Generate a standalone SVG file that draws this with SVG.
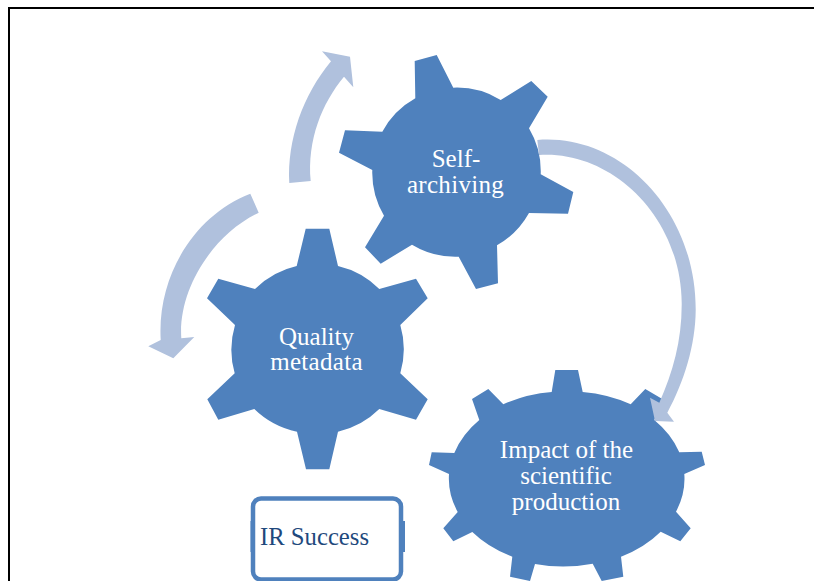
<svg xmlns="http://www.w3.org/2000/svg" width="814" height="581" viewBox="0 0 814 581">
<style>
.gear{fill:#4f81bd}
.arrow{fill:#b0c1dd}
.lbl{font-family:"Liberation Serif","Times New Roman",serif;font-size:25px;fill:#fff;text-anchor:middle}
</style>
<rect width="814" height="581" fill="#fff"/>
<path d="M9,581V8H814" fill="none" stroke="#000" stroke-width="2"/>
<g id="node-self-archiving">
<path class="gear" d="M414.7,61L436.7,55L453.3,87.7A84,84 0 0 1 500.7,100L531.3,81L547.7,96.7L529,128.3A84,84 0 0 1 540.7,174.3L573.3,192L568,213.7L529,213A84,84 0 0 1 497,245.3L498,283.3L476,289L458.7,256.7A84,84 0 0 1 412,244.7L380.7,263.7L365,247.3L384,215.7A84,84 0 0 1 372.3,170L339,152.7L345,130.3L382.3,131.7A84,84 0 0 1 415.3,98.3Z"/>
<text class="lbl" x="456" y="167">Self-</text>
<text class="lbl" x="455.500" y="193" letter-spacing="0.3">archiving</text>
</g>
<g id="node-quality-metadata">
<path class="gear" d="M305.7,228.7H329.3L338,266A86,86 0 0 1 379.3,289L416,278.7L427.7,298.3L400.3,325A86,86 0 0 1 400.3,373.3L427.7,399.3L416,419.7L379.3,409A86,86 0 0 1 338,431.7L329.3,469.3H306L297,431.7A86,86 0 0 1 254.3,409L218.3,419.7L207.3,399.3L234.7,373.3A86,86 0 0 1 235,325L207,298.3L218.3,278.7L255,289A86,86 0 0 1 296.7,266Z"/>
<text class="lbl" x="316.500" y="345">Quality</text>
<text class="lbl" x="316.500" y="370" letter-spacing="0.3">metadata</text>
</g>
<g id="node-impact">
<path class="gear" d="M555.300,370H578L582.700,392A118,88 0 0 1 630.700,404.300L645.300,389L662.300,399L654.300,420A118,88 0 0 1 679.300,452.300L701.700,451.700L705,465L684.300,474A118,88 0 0 1 676,511.700L690.700,528.300L680.300,541.300L660.700,531.700A118,88 0 0 1 621,556.700L623.300,576.700L601.700,581L592.700,563.700A118,88 0 0 1 535,564L530,581L510,576.700L512.300,556.700A118,88 0 0 1 472.300,532L453.300,541.300L443.300,528.300L457.700,512A118,88 0 0 1 449,474L429,465L431.700,452.300L454.300,453A118,88 0 0 1 479.300,420L472,399L488.300,389L503.300,404.300A118,88 0 0 1 551.700,392Z"/>
<text class="lbl" x="566.500" y="458">Impact of the</text>
<text class="lbl" x="566" y="484">scientific</text>
<text class="lbl" x="566" y="510">production</text>
</g>
<g id="node-ir-success">
<rect x="253" y="498.500" width="148" height="81" rx="8" fill="#fff" stroke="#4f81bd" stroke-width="4.500"/>
<rect x="399.500" y="521" width="5.500" height="31" fill="#4f81bd"/>
<rect x="250.500" y="521" width="3" height="31" fill="#4f81bd"/>
<text x="260" y="545" font-family="'Liberation Serif','Times New Roman',serif" font-size="24.700" fill="#1f497d">IR Success</text>
</g>
<g id="connectors">
<path class="arrow" d="M289.300,183C287,140 303,95 331,61.300L322,51.300L350,56.700L353.300,87.300L344,76.700C322,103 307,140 310.700,181Z"/>
<path class="arrow" d="M250.300,193.700C195,215 157,275 160.700,340L148.300,346.300L173.300,358.300L194.300,337L181.300,338.300C178,290 212,235 258.700,212.700Z"/>
<path class="arrow" d="M537.300,140C620,133 696,210 695.700,310C695.500,345 684,382 667.300,412.700L674,421.700L655,421L650,397.700L659.300,402.700C673,372 682,340 681.700,303C681,215 610,150 539,155Z"/>
</g>
</svg>
